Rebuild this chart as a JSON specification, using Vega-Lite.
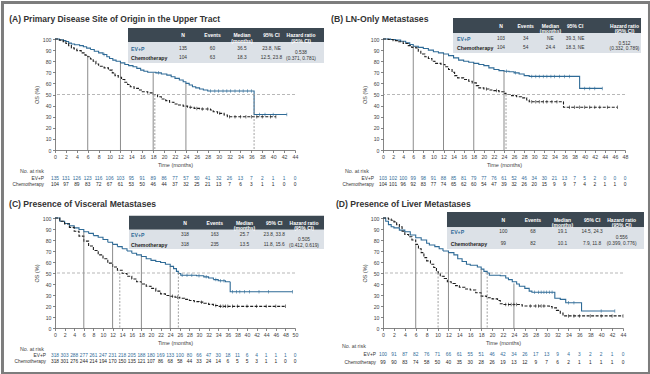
{
"$schema":"https://vega.github.io/schema/vega-lite/v6.json",
"padding":0,
"background":"white",
"columns":2,
"spacing":{"row":68,"column":88},
"bounds":"flush",
"config":{"view":{"stroke":null},"font":"Liberation Sans",
 "axis":{"labelFontSize":5.2,"labelColor":"#444","titleFontSize":5.5,"titleFontWeight":"normal","titleColor":"#444","domainColor":"#666","tickColor":"#666","tickSize":2.5,"labelPadding":1.5,"grid":false,"domainWidth":0.8,"tickWidth":0.8,"labelOverlap":false,"labelFlush":false,"titlePadding":3},
 "axisX":{"tickCount":24},"axisY":{"tickCount":10}},
"datasets":{
"km":[
{"p":"A","arm":"EV+P","t":0,"s":100},{"p":"A","arm":"EV+P","t":0.8,"s":99.3},{"p":"A","arm":"EV+P","t":1.5,"s":98.5},{"p":"A","arm":"EV+P","t":2,"s":97.8},{"p":"A","arm":"EV+P","t":2.5,"s":96.3},{"p":"A","arm":"EV+P","t":3,"s":95.5},{"p":"A","arm":"EV+P","t":3.6,"s":94.8},{"p":"A","arm":"EV+P","t":4.5,"s":94},{"p":"A","arm":"EV+P","t":5.2,"s":93},{"p":"A","arm":"EV+P","t":5.8,"s":91.8},{"p":"A","arm":"EV+P","t":6.5,"s":90.5},{"p":"A","arm":"EV+P","t":7.2,"s":89},{"p":"A","arm":"EV+P","t":8,"s":87.5},{"p":"A","arm":"EV+P","t":8.8,"s":86},{"p":"A","arm":"EV+P","t":9.5,"s":84},{"p":"A","arm":"EV+P","t":10,"s":82.5},{"p":"A","arm":"EV+P","t":10.6,"s":81},{"p":"A","arm":"EV+P","t":11.2,"s":80},{"p":"A","arm":"EV+P","t":12,"s":78.5},{"p":"A","arm":"EV+P","t":12.8,"s":77},{"p":"A","arm":"EV+P","t":13.5,"s":76},{"p":"A","arm":"EV+P","t":14.3,"s":75},{"p":"A","arm":"EV+P","t":15,"s":73.5},{"p":"A","arm":"EV+P","t":15.7,"s":72},{"p":"A","arm":"EV+P","t":16.3,"s":71},{"p":"A","arm":"EV+P","t":17,"s":70},{"p":"A","arm":"EV+P","t":18.5,"s":69.5},{"p":"A","arm":"EV+P","t":19.5,"s":68.5},{"p":"A","arm":"EV+P","t":20.5,"s":67.5},{"p":"A","arm":"EV+P","t":21.3,"s":66},{"p":"A","arm":"EV+P","t":22,"s":64.5},{"p":"A","arm":"EV+P","t":22.8,"s":63},{"p":"A","arm":"EV+P","t":23.5,"s":61.5},{"p":"A","arm":"EV+P","t":24,"s":60},{"p":"A","arm":"EV+P","t":24.6,"s":58.5},{"p":"A","arm":"EV+P","t":25.2,"s":57},{"p":"A","arm":"EV+P","t":25.8,"s":56},{"p":"A","arm":"EV+P","t":26.5,"s":55},{"p":"A","arm":"EV+P","t":27.2,"s":54},{"p":"A","arm":"EV+P","t":28,"s":53.2},{"p":"A","arm":"EV+P","t":36.5,"s":32},{"p":"A","arm":"EV+P","t":42.5,"s":32},
{"p":"A","arm":"Chemotherapy","t":0,"s":100},{"p":"A","arm":"Chemotherapy","t":0.8,"s":99},{"p":"A","arm":"Chemotherapy","t":1.5,"s":97.5},{"p":"A","arm":"Chemotherapy","t":2,"s":96},{"p":"A","arm":"Chemotherapy","t":2.5,"s":94},{"p":"A","arm":"Chemotherapy","t":3,"s":92},{"p":"A","arm":"Chemotherapy","t":3.5,"s":91},{"p":"A","arm":"Chemotherapy","t":4,"s":89.5},{"p":"A","arm":"Chemotherapy","t":4.8,"s":87.5},{"p":"A","arm":"Chemotherapy","t":5.5,"s":85.5},{"p":"A","arm":"Chemotherapy","t":6,"s":84},{"p":"A","arm":"Chemotherapy","t":6.5,"s":82},{"p":"A","arm":"Chemotherapy","t":7,"s":80},{"p":"A","arm":"Chemotherapy","t":7.5,"s":77.5},{"p":"A","arm":"Chemotherapy","t":8,"s":75.5},{"p":"A","arm":"Chemotherapy","t":9,"s":74},{"p":"A","arm":"Chemotherapy","t":9.8,"s":72},{"p":"A","arm":"Chemotherapy","t":10.5,"s":69.5},{"p":"A","arm":"Chemotherapy","t":11,"s":67},{"p":"A","arm":"Chemotherapy","t":11.6,"s":65.5},{"p":"A","arm":"Chemotherapy","t":12.2,"s":63.5},{"p":"A","arm":"Chemotherapy","t":12.8,"s":61},{"p":"A","arm":"Chemotherapy","t":13.3,"s":59},{"p":"A","arm":"Chemotherapy","t":13.8,"s":57},{"p":"A","arm":"Chemotherapy","t":14.5,"s":55.5},{"p":"A","arm":"Chemotherapy","t":15.3,"s":54},{"p":"A","arm":"Chemotherapy","t":16,"s":52.5},{"p":"A","arm":"Chemotherapy","t":17,"s":51.5},{"p":"A","arm":"Chemotherapy","t":18,"s":50},{"p":"A","arm":"Chemotherapy","t":18.8,"s":48},{"p":"A","arm":"Chemotherapy","t":19.5,"s":46},{"p":"A","arm":"Chemotherapy","t":20.3,"s":44.5},{"p":"A","arm":"Chemotherapy","t":21,"s":43},{"p":"A","arm":"Chemotherapy","t":21.8,"s":41.5},{"p":"A","arm":"Chemotherapy","t":22.5,"s":40.5},{"p":"A","arm":"Chemotherapy","t":23.5,"s":39.5},{"p":"A","arm":"Chemotherapy","t":24.3,"s":38.5},{"p":"A","arm":"Chemotherapy","t":25.5,"s":37.5},{"p":"A","arm":"Chemotherapy","t":26.5,"s":37},{"p":"A","arm":"Chemotherapy","t":28.5,"s":36},{"p":"A","arm":"Chemotherapy","t":29,"s":34.5},{"p":"A","arm":"Chemotherapy","t":29.8,"s":33},{"p":"A","arm":"Chemotherapy","t":31,"s":31.5},{"p":"A","arm":"Chemotherapy","t":31.6,"s":30},{"p":"A","arm":"Chemotherapy","t":40.5,"s":30},
{"p":"B","arm":"EV+P","t":0,"s":100},{"p":"B","arm":"EV+P","t":1.5,"s":99.5},{"p":"B","arm":"EV+P","t":2.5,"s":99},{"p":"B","arm":"EV+P","t":3.5,"s":98},{"p":"B","arm":"EV+P","t":4.5,"s":96.5},{"p":"B","arm":"EV+P","t":5.3,"s":95},{"p":"B","arm":"EV+P","t":6,"s":93.5},{"p":"B","arm":"EV+P","t":7,"s":92.5},{"p":"B","arm":"EV+P","t":8,"s":91.5},{"p":"B","arm":"EV+P","t":9,"s":90},{"p":"B","arm":"EV+P","t":10,"s":88.5},{"p":"B","arm":"EV+P","t":11,"s":87.5},{"p":"B","arm":"EV+P","t":12,"s":86.5},{"p":"B","arm":"EV+P","t":13,"s":85},{"p":"B","arm":"EV+P","t":14,"s":83},{"p":"B","arm":"EV+P","t":15,"s":81},{"p":"B","arm":"EV+P","t":16,"s":80},{"p":"B","arm":"EV+P","t":17,"s":79},{"p":"B","arm":"EV+P","t":18,"s":78},{"p":"B","arm":"EV+P","t":19,"s":77},{"p":"B","arm":"EV+P","t":20,"s":76},{"p":"B","arm":"EV+P","t":21,"s":74},{"p":"B","arm":"EV+P","t":22,"s":72.5},{"p":"B","arm":"EV+P","t":23,"s":71.5},{"p":"B","arm":"EV+P","t":24,"s":71},{"p":"B","arm":"EV+P","t":25,"s":70.5},{"p":"B","arm":"EV+P","t":26,"s":69.5},{"p":"B","arm":"EV+P","t":27,"s":68.5},{"p":"B","arm":"EV+P","t":28,"s":67},{"p":"B","arm":"EV+P","t":29,"s":66.3},{"p":"B","arm":"EV+P","t":39,"s":55.5},{"p":"B","arm":"EV+P","t":43.5,"s":55.5},
{"p":"B","arm":"Chemotherapy","t":0,"s":100},{"p":"B","arm":"Chemotherapy","t":1,"s":99.5},{"p":"B","arm":"Chemotherapy","t":2,"s":98.5},{"p":"B","arm":"Chemotherapy","t":3,"s":97.5},{"p":"B","arm":"Chemotherapy","t":4,"s":96},{"p":"B","arm":"Chemotherapy","t":5,"s":94},{"p":"B","arm":"Chemotherapy","t":5.7,"s":92.5},{"p":"B","arm":"Chemotherapy","t":6.5,"s":92},{"p":"B","arm":"Chemotherapy","t":7,"s":89},{"p":"B","arm":"Chemotherapy","t":7.5,"s":86.5},{"p":"B","arm":"Chemotherapy","t":8.3,"s":84},{"p":"B","arm":"Chemotherapy","t":9,"s":82.5},{"p":"B","arm":"Chemotherapy","t":9.7,"s":80},{"p":"B","arm":"Chemotherapy","t":10.3,"s":78},{"p":"B","arm":"Chemotherapy","t":11.5,"s":77},{"p":"B","arm":"Chemotherapy","t":12.3,"s":75},{"p":"B","arm":"Chemotherapy","t":13,"s":72.5},{"p":"B","arm":"Chemotherapy","t":13.7,"s":70},{"p":"B","arm":"Chemotherapy","t":14.2,"s":67},{"p":"B","arm":"Chemotherapy","t":14.8,"s":65},{"p":"B","arm":"Chemotherapy","t":16,"s":63.5},{"p":"B","arm":"Chemotherapy","t":17,"s":62},{"p":"B","arm":"Chemotherapy","t":17.7,"s":60.5},{"p":"B","arm":"Chemotherapy","t":18.5,"s":58},{"p":"B","arm":"Chemotherapy","t":19,"s":56},{"p":"B","arm":"Chemotherapy","t":20,"s":55},{"p":"B","arm":"Chemotherapy","t":21,"s":54},{"p":"B","arm":"Chemotherapy","t":22,"s":53.5},{"p":"B","arm":"Chemotherapy","t":23,"s":52.5},{"p":"B","arm":"Chemotherapy","t":24,"s":51},{"p":"B","arm":"Chemotherapy","t":24.4,"s":50},{"p":"B","arm":"Chemotherapy","t":25.5,"s":49},{"p":"B","arm":"Chemotherapy","t":26.5,"s":48},{"p":"B","arm":"Chemotherapy","t":27.5,"s":47},{"p":"B","arm":"Chemotherapy","t":28.5,"s":45},{"p":"B","arm":"Chemotherapy","t":29,"s":43.5},{"p":"B","arm":"Chemotherapy","t":35.8,"s":38.5},{"p":"B","arm":"Chemotherapy","t":46.5,"s":38.5},
{"p":"C","arm":"EV+P","t":0,"s":100},{"p":"C","arm":"EV+P","t":1,"s":97},{"p":"C","arm":"EV+P","t":2,"s":95},{"p":"C","arm":"EV+P","t":3,"s":93},{"p":"C","arm":"EV+P","t":4,"s":91},{"p":"C","arm":"EV+P","t":5,"s":89.5},{"p":"C","arm":"EV+P","t":6,"s":87.5},{"p":"C","arm":"EV+P","t":7,"s":86},{"p":"C","arm":"EV+P","t":8,"s":84},{"p":"C","arm":"EV+P","t":9,"s":82.5},{"p":"C","arm":"EV+P","t":10,"s":80.5},{"p":"C","arm":"EV+P","t":11,"s":78},{"p":"C","arm":"EV+P","t":12,"s":76},{"p":"C","arm":"EV+P","t":13,"s":74},{"p":"C","arm":"EV+P","t":14,"s":72},{"p":"C","arm":"EV+P","t":15,"s":70},{"p":"C","arm":"EV+P","t":16,"s":68},{"p":"C","arm":"EV+P","t":17,"s":66.5},{"p":"C","arm":"EV+P","t":18,"s":65},{"p":"C","arm":"EV+P","t":19,"s":63},{"p":"C","arm":"EV+P","t":20,"s":61.5},{"p":"C","arm":"EV+P","t":21,"s":60.5},{"p":"C","arm":"EV+P","t":22,"s":59.5},{"p":"C","arm":"EV+P","t":23,"s":58},{"p":"C","arm":"EV+P","t":24,"s":56},{"p":"C","arm":"EV+P","t":24.7,"s":54},{"p":"C","arm":"EV+P","t":25.3,"s":51.5},{"p":"C","arm":"EV+P","t":25.7,"s":49.5},{"p":"C","arm":"EV+P","t":26.2,"s":48},{"p":"C","arm":"EV+P","t":29.5,"s":47.5},{"p":"C","arm":"EV+P","t":31,"s":46.5},{"p":"C","arm":"EV+P","t":32,"s":45.5},{"p":"C","arm":"EV+P","t":33,"s":44},{"p":"C","arm":"EV+P","t":34,"s":43},{"p":"C","arm":"EV+P","t":35.5,"s":42},{"p":"C","arm":"EV+P","t":36.5,"s":33},{"p":"C","arm":"EV+P","t":49.5,"s":33},
{"p":"C","arm":"Chemotherapy","t":0,"s":100},{"p":"C","arm":"Chemotherapy","t":1,"s":97},{"p":"C","arm":"Chemotherapy","t":2,"s":94.5},{"p":"C","arm":"Chemotherapy","t":3,"s":91.5},{"p":"C","arm":"Chemotherapy","t":4,"s":88},{"p":"C","arm":"Chemotherapy","t":5,"s":83.5},{"p":"C","arm":"Chemotherapy","t":6,"s":79},{"p":"C","arm":"Chemotherapy","t":7,"s":74.5},{"p":"C","arm":"Chemotherapy","t":8,"s":70.5},{"p":"C","arm":"Chemotherapy","t":9,"s":66.5},{"p":"C","arm":"Chemotherapy","t":10,"s":63},{"p":"C","arm":"Chemotherapy","t":11,"s":59},{"p":"C","arm":"Chemotherapy","t":12,"s":55.5},{"p":"C","arm":"Chemotherapy","t":13,"s":52.5},{"p":"C","arm":"Chemotherapy","t":14,"s":49.5},{"p":"C","arm":"Chemotherapy","t":15,"s":47},{"p":"C","arm":"Chemotherapy","t":16,"s":44.5},{"p":"C","arm":"Chemotherapy","t":17,"s":42},{"p":"C","arm":"Chemotherapy","t":18,"s":40},{"p":"C","arm":"Chemotherapy","t":19,"s":38},{"p":"C","arm":"Chemotherapy","t":20,"s":36},{"p":"C","arm":"Chemotherapy","t":21,"s":33.5},{"p":"C","arm":"Chemotherapy","t":22,"s":31},{"p":"C","arm":"Chemotherapy","t":23,"s":29.5},{"p":"C","arm":"Chemotherapy","t":24,"s":28.8},{"p":"C","arm":"Chemotherapy","t":25,"s":28},{"p":"C","arm":"Chemotherapy","t":26,"s":27},{"p":"C","arm":"Chemotherapy","t":27,"s":26},{"p":"C","arm":"Chemotherapy","t":28,"s":25},{"p":"C","arm":"Chemotherapy","t":29,"s":24},{"p":"C","arm":"Chemotherapy","t":30,"s":23.5},{"p":"C","arm":"Chemotherapy","t":31,"s":22.5},{"p":"C","arm":"Chemotherapy","t":32,"s":21.5},{"p":"C","arm":"Chemotherapy","t":33,"s":20.5},{"p":"C","arm":"Chemotherapy","t":34,"s":19.7},{"p":"C","arm":"Chemotherapy","t":48,"s":19.7},
{"p":"D","arm":"EV+P","t":0,"s":100},{"p":"D","arm":"EV+P","t":0.5,"s":97},{"p":"D","arm":"EV+P","t":1,"s":94},{"p":"D","arm":"EV+P","t":1.5,"s":92},{"p":"D","arm":"EV+P","t":2,"s":91},{"p":"D","arm":"EV+P","t":3,"s":89},{"p":"D","arm":"EV+P","t":4,"s":87.5},{"p":"D","arm":"EV+P","t":5,"s":84.5},{"p":"D","arm":"EV+P","t":6,"s":82},{"p":"D","arm":"EV+P","t":7,"s":80},{"p":"D","arm":"EV+P","t":8,"s":77},{"p":"D","arm":"EV+P","t":8.5,"s":75.5},{"p":"D","arm":"EV+P","t":9.5,"s":74},{"p":"D","arm":"EV+P","t":10.3,"s":72},{"p":"D","arm":"EV+P","t":11,"s":70},{"p":"D","arm":"EV+P","t":12,"s":68.5},{"p":"D","arm":"EV+P","t":13,"s":66.5},{"p":"D","arm":"EV+P","t":13.7,"s":63},{"p":"D","arm":"EV+P","t":14.5,"s":60.5},{"p":"D","arm":"EV+P","t":15.3,"s":58},{"p":"D","arm":"EV+P","t":16,"s":57},{"p":"D","arm":"EV+P","t":17.3,"s":55.5},{"p":"D","arm":"EV+P","t":18,"s":53.5},{"p":"D","arm":"EV+P","t":18.5,"s":51.5},{"p":"D","arm":"EV+P","t":19.1,"s":50},{"p":"D","arm":"EV+P","t":19.5,"s":48},{"p":"D","arm":"EV+P","t":21.5,"s":47.5},{"p":"D","arm":"EV+P","t":22.5,"s":45.5},{"p":"D","arm":"EV+P","t":23,"s":44},{"p":"D","arm":"EV+P","t":23.7,"s":42},{"p":"D","arm":"EV+P","t":24.5,"s":40},{"p":"D","arm":"EV+P","t":25,"s":38},{"p":"D","arm":"EV+P","t":26,"s":36},{"p":"D","arm":"EV+P","t":26.8,"s":33.5},{"p":"D","arm":"EV+P","t":27.3,"s":32.5},{"p":"D","arm":"EV+P","t":31.5,"s":27},{"p":"D","arm":"EV+P","t":32.5,"s":26},{"p":"D","arm":"EV+P","t":33.5,"s":23},{"p":"D","arm":"EV+P","t":36.4,"s":15.5},{"p":"D","arm":"EV+P","t":42.5,"s":15.5},
{"p":"D","arm":"Chemotherapy","t":0,"s":100},{"p":"D","arm":"Chemotherapy","t":1,"s":99},{"p":"D","arm":"Chemotherapy","t":1.5,"s":98},{"p":"D","arm":"Chemotherapy","t":2,"s":96.5},{"p":"D","arm":"Chemotherapy","t":2.5,"s":94},{"p":"D","arm":"Chemotherapy","t":3,"s":92},{"p":"D","arm":"Chemotherapy","t":3.5,"s":88},{"p":"D","arm":"Chemotherapy","t":4,"s":85},{"p":"D","arm":"Chemotherapy","t":4.7,"s":83},{"p":"D","arm":"Chemotherapy","t":5.3,"s":80},{"p":"D","arm":"Chemotherapy","t":6,"s":76},{"p":"D","arm":"Chemotherapy","t":6.5,"s":72},{"p":"D","arm":"Chemotherapy","t":7,"s":68.5},{"p":"D","arm":"Chemotherapy","t":7.5,"s":64},{"p":"D","arm":"Chemotherapy","t":8,"s":61},{"p":"D","arm":"Chemotherapy","t":8.7,"s":58},{"p":"D","arm":"Chemotherapy","t":9.3,"s":55},{"p":"D","arm":"Chemotherapy","t":9.8,"s":52},{"p":"D","arm":"Chemotherapy","t":10.1,"s":50},{"p":"D","arm":"Chemotherapy","t":10.5,"s":47},{"p":"D","arm":"Chemotherapy","t":11.2,"s":45},{"p":"D","arm":"Chemotherapy","t":11.8,"s":42},{"p":"D","arm":"Chemotherapy","t":12.5,"s":40.5},{"p":"D","arm":"Chemotherapy","t":13.3,"s":38.5},{"p":"D","arm":"Chemotherapy","t":14,"s":37},{"p":"D","arm":"Chemotherapy","t":15,"s":35.5},{"p":"D","arm":"Chemotherapy","t":16,"s":34.5},{"p":"D","arm":"Chemotherapy","t":17,"s":32},{"p":"D","arm":"Chemotherapy","t":18,"s":29},{"p":"D","arm":"Chemotherapy","t":19,"s":27.5},{"p":"D","arm":"Chemotherapy","t":20,"s":26.5},{"p":"D","arm":"Chemotherapy","t":21,"s":25},{"p":"D","arm":"Chemotherapy","t":21.5,"s":22},{"p":"D","arm":"Chemotherapy","t":22,"s":21.3},{"p":"D","arm":"Chemotherapy","t":25.5,"s":20},{"p":"D","arm":"Chemotherapy","t":30.5,"s":19.5},{"p":"D","arm":"Chemotherapy","t":31,"s":18.3},{"p":"D","arm":"Chemotherapy","t":31.8,"s":16},{"p":"D","arm":"Chemotherapy","t":32.5,"s":13.5},{"p":"D","arm":"Chemotherapy","t":33,"s":11},{"p":"D","arm":"Chemotherapy","t":44,"s":11}
],
"cens":[
{"p":"A","arm":"EV+P","t":9,"s":86},{"p":"A","arm":"EV+P","t":19,"s":69.5},{"p":"A","arm":"EV+P","t":28.5,"s":53.2},{"p":"A","arm":"EV+P","t":29.3,"s":53.2},{"p":"A","arm":"EV+P","t":30,"s":53.2},{"p":"A","arm":"EV+P","t":30.8,"s":53.2},{"p":"A","arm":"EV+P","t":31.5,"s":53.2},{"p":"A","arm":"EV+P","t":32.2,"s":53.2},{"p":"A","arm":"EV+P","t":33,"s":53.2},{"p":"A","arm":"EV+P","t":33.8,"s":53.2},{"p":"A","arm":"EV+P","t":34.5,"s":53.2},{"p":"A","arm":"EV+P","t":35.3,"s":53.2},{"p":"A","arm":"EV+P","t":36,"s":53.2},{"p":"A","arm":"EV+P","t":37.5,"s":32},{"p":"A","arm":"EV+P","t":38.5,"s":32},{"p":"A","arm":"EV+P","t":40,"s":32},{"p":"A","arm":"EV+P","t":42.5,"s":32},
{"p":"A","arm":"Chemotherapy","t":24.8,"s":38.5},{"p":"A","arm":"Chemotherapy","t":26,"s":37.5},{"p":"A","arm":"Chemotherapy","t":27,"s":37},{"p":"A","arm":"Chemotherapy","t":28,"s":37},{"p":"A","arm":"Chemotherapy","t":30.2,"s":33},{"p":"A","arm":"Chemotherapy","t":32,"s":30},{"p":"A","arm":"Chemotherapy","t":33,"s":30},{"p":"A","arm":"Chemotherapy","t":34,"s":30},{"p":"A","arm":"Chemotherapy","t":35,"s":30},{"p":"A","arm":"Chemotherapy","t":36,"s":30},{"p":"A","arm":"Chemotherapy","t":37,"s":30},{"p":"A","arm":"Chemotherapy","t":38,"s":30},{"p":"A","arm":"Chemotherapy","t":39.5,"s":30},{"p":"A","arm":"Chemotherapy","t":40.5,"s":30},
{"p":"B","arm":"EV+P","t":24.5,"s":71},{"p":"B","arm":"EV+P","t":26.3,"s":69.5},{"p":"B","arm":"EV+P","t":29.5,"s":66.3},{"p":"B","arm":"EV+P","t":30.3,"s":66.3},{"p":"B","arm":"EV+P","t":31,"s":66.3},{"p":"B","arm":"EV+P","t":31.8,"s":66.3},{"p":"B","arm":"EV+P","t":32.5,"s":66.3},{"p":"B","arm":"EV+P","t":33.3,"s":66.3},{"p":"B","arm":"EV+P","t":34,"s":66.3},{"p":"B","arm":"EV+P","t":35,"s":66.3},{"p":"B","arm":"EV+P","t":36,"s":66.3},{"p":"B","arm":"EV+P","t":37,"s":66.3},{"p":"B","arm":"EV+P","t":40,"s":55.5},{"p":"B","arm":"EV+P","t":41,"s":55.5},{"p":"B","arm":"EV+P","t":42,"s":55.5},{"p":"B","arm":"EV+P","t":43.5,"s":55.5},
{"p":"B","arm":"Chemotherapy","t":20.5,"s":55},{"p":"B","arm":"Chemotherapy","t":22.5,"s":53.5},{"p":"B","arm":"Chemotherapy","t":29.5,"s":43.5},{"p":"B","arm":"Chemotherapy","t":30.3,"s":43.5},{"p":"B","arm":"Chemotherapy","t":31,"s":43.5},{"p":"B","arm":"Chemotherapy","t":31.8,"s":43.5},{"p":"B","arm":"Chemotherapy","t":32.5,"s":43.5},{"p":"B","arm":"Chemotherapy","t":33.5,"s":43.5},{"p":"B","arm":"Chemotherapy","t":34.5,"s":43.5},{"p":"B","arm":"Chemotherapy","t":37,"s":38.5},{"p":"B","arm":"Chemotherapy","t":38,"s":38.5},{"p":"B","arm":"Chemotherapy","t":39,"s":38.5},{"p":"B","arm":"Chemotherapy","t":40,"s":38.5},{"p":"B","arm":"Chemotherapy","t":41,"s":38.5},{"p":"B","arm":"Chemotherapy","t":42,"s":38.5},{"p":"B","arm":"Chemotherapy","t":43,"s":38.5},{"p":"B","arm":"Chemotherapy","t":44.5,"s":38.5},{"p":"B","arm":"Chemotherapy","t":46.5,"s":38.5},
{"p":"C","arm":"EV+P","t":26.5,"s":48},{"p":"C","arm":"EV+P","t":27.5,"s":48},{"p":"C","arm":"EV+P","t":28.5,"s":48},{"p":"C","arm":"EV+P","t":30,"s":47.5},{"p":"C","arm":"EV+P","t":31.5,"s":46.5},{"p":"C","arm":"EV+P","t":33.5,"s":44},{"p":"C","arm":"EV+P","t":34.5,"s":43},{"p":"C","arm":"EV+P","t":35.2,"s":43},{"p":"C","arm":"EV+P","t":37,"s":33},{"p":"C","arm":"EV+P","t":37.8,"s":33},{"p":"C","arm":"EV+P","t":38.5,"s":33},{"p":"C","arm":"EV+P","t":39.5,"s":33},{"p":"C","arm":"EV+P","t":40.5,"s":33},{"p":"C","arm":"EV+P","t":42.5,"s":33},{"p":"C","arm":"EV+P","t":44.5,"s":33},{"p":"C","arm":"EV+P","t":49.5,"s":33},
{"p":"C","arm":"Chemotherapy","t":24.5,"s":28.8},{"p":"C","arm":"Chemotherapy","t":25.5,"s":28},{"p":"C","arm":"Chemotherapy","t":30.5,"s":23.5},{"p":"C","arm":"Chemotherapy","t":33.5,"s":20.5},{"p":"C","arm":"Chemotherapy","t":34.5,"s":19.7},{"p":"C","arm":"Chemotherapy","t":35,"s":19.7},{"p":"C","arm":"Chemotherapy","t":35.5,"s":19.7},{"p":"C","arm":"Chemotherapy","t":36,"s":19.7},{"p":"C","arm":"Chemotherapy","t":37,"s":19.7},{"p":"C","arm":"Chemotherapy","t":38,"s":19.7},{"p":"C","arm":"Chemotherapy","t":40,"s":19.7},{"p":"C","arm":"Chemotherapy","t":42,"s":19.7},{"p":"C","arm":"Chemotherapy","t":44,"s":19.7},{"p":"C","arm":"Chemotherapy","t":46,"s":19.7},{"p":"C","arm":"Chemotherapy","t":48,"s":19.7},
{"p":"D","arm":"EV+P","t":27.8,"s":32.5},{"p":"D","arm":"EV+P","t":28.5,"s":32.5},{"p":"D","arm":"EV+P","t":29,"s":32.5},{"p":"D","arm":"EV+P","t":29.5,"s":32.5},{"p":"D","arm":"EV+P","t":30,"s":32.5},{"p":"D","arm":"EV+P","t":30.5,"s":32.5},{"p":"D","arm":"EV+P","t":31,"s":32.5},{"p":"D","arm":"EV+P","t":34,"s":23},{"p":"D","arm":"EV+P","t":35,"s":23},{"p":"D","arm":"EV+P","t":40,"s":15.5},{"p":"D","arm":"EV+P","t":42.5,"s":15.5},
{"p":"D","arm":"Chemotherapy","t":22.5,"s":21.3},{"p":"D","arm":"Chemotherapy","t":23,"s":21.3},{"p":"D","arm":"Chemotherapy","t":23.5,"s":21.3},{"p":"D","arm":"Chemotherapy","t":24,"s":21.3},{"p":"D","arm":"Chemotherapy","t":24.5,"s":21.3},{"p":"D","arm":"Chemotherapy","t":27,"s":20},{"p":"D","arm":"Chemotherapy","t":28,"s":20},{"p":"D","arm":"Chemotherapy","t":28.5,"s":20},{"p":"D","arm":"Chemotherapy","t":29,"s":20},{"p":"D","arm":"Chemotherapy","t":29.5,"s":20},{"p":"D","arm":"Chemotherapy","t":34,"s":11},{"p":"D","arm":"Chemotherapy","t":35,"s":11},{"p":"D","arm":"Chemotherapy","t":36,"s":11},{"p":"D","arm":"Chemotherapy","t":38,"s":11},{"p":"D","arm":"Chemotherapy","t":40,"s":11},{"p":"D","arm":"Chemotherapy","t":42,"s":11},{"p":"D","arm":"Chemotherapy","t":44,"s":11}
],
"lm":[
{"p":"A","kind":"landmark","t":6,"s":84},{"p":"A","kind":"landmark","t":12,"s":78.5},{"p":"A","kind":"landmark","t":18,"s":69.5},{"p":"A","kind":"landmark","t":24,"s":60},{"p":"A","kind":"median","t":18.3,"s":50},{"p":"A","kind":"median","t":36.5,"s":50},
{"p":"B","kind":"landmark","t":6,"s":93.5},{"p":"B","kind":"landmark","t":12,"s":86.5},{"p":"B","kind":"landmark","t":18,"s":78},{"p":"B","kind":"landmark","t":24,"s":71},{"p":"B","kind":"median","t":24.4,"s":50},
{"p":"C","kind":"landmark","t":6,"s":87.5},{"p":"C","kind":"landmark","t":12,"s":76},{"p":"C","kind":"landmark","t":18,"s":65},{"p":"C","kind":"landmark","t":24,"s":56},{"p":"C","kind":"median","t":13.5,"s":50},{"p":"C","kind":"median","t":25.7,"s":50},
{"p":"D","kind":"landmark","t":6,"s":76},{"p":"D","kind":"landmark","t":12,"s":68.5},{"p":"D","kind":"landmark","t":18,"s":53.5},{"p":"D","kind":"landmark","t":24,"s":40.5},{"p":"D","kind":"median","t":10.1,"s":50},{"p":"D","kind":"median","t":19.1,"s":50}
],
"risk":[
{"p":"A","arm":"EV+P","t":0,"n":135},{"p":"A","arm":"EV+P","t":2,"n":131},{"p":"A","arm":"EV+P","t":4,"n":126},{"p":"A","arm":"EV+P","t":6,"n":123},{"p":"A","arm":"EV+P","t":8,"n":116},{"p":"A","arm":"EV+P","t":10,"n":106},{"p":"A","arm":"EV+P","t":12,"n":103},{"p":"A","arm":"EV+P","t":14,"n":95},{"p":"A","arm":"EV+P","t":16,"n":91},{"p":"A","arm":"EV+P","t":18,"n":89},{"p":"A","arm":"EV+P","t":20,"n":86},{"p":"A","arm":"EV+P","t":22,"n":77},{"p":"A","arm":"EV+P","t":24,"n":57},{"p":"A","arm":"EV+P","t":26,"n":50},{"p":"A","arm":"EV+P","t":28,"n":41},{"p":"A","arm":"EV+P","t":30,"n":32},{"p":"A","arm":"EV+P","t":32,"n":26},{"p":"A","arm":"EV+P","t":34,"n":13},{"p":"A","arm":"EV+P","t":36,"n":7},{"p":"A","arm":"EV+P","t":38,"n":2},{"p":"A","arm":"EV+P","t":40,"n":1},{"p":"A","arm":"EV+P","t":42,"n":1},{"p":"A","arm":"EV+P","t":44,"n":0},
{"p":"A","arm":"Chemotherapy","t":0,"n":104},{"p":"A","arm":"Chemotherapy","t":2,"n":97},{"p":"A","arm":"Chemotherapy","t":4,"n":89},{"p":"A","arm":"Chemotherapy","t":6,"n":83},{"p":"A","arm":"Chemotherapy","t":8,"n":72},{"p":"A","arm":"Chemotherapy","t":10,"n":67},{"p":"A","arm":"Chemotherapy","t":12,"n":61},{"p":"A","arm":"Chemotherapy","t":14,"n":53},{"p":"A","arm":"Chemotherapy","t":16,"n":50},{"p":"A","arm":"Chemotherapy","t":18,"n":46},{"p":"A","arm":"Chemotherapy","t":20,"n":44},{"p":"A","arm":"Chemotherapy","t":22,"n":37},{"p":"A","arm":"Chemotherapy","t":24,"n":32},{"p":"A","arm":"Chemotherapy","t":26,"n":25},{"p":"A","arm":"Chemotherapy","t":28,"n":21},{"p":"A","arm":"Chemotherapy","t":30,"n":13},{"p":"A","arm":"Chemotherapy","t":32,"n":7},{"p":"A","arm":"Chemotherapy","t":34,"n":6},{"p":"A","arm":"Chemotherapy","t":36,"n":3},{"p":"A","arm":"Chemotherapy","t":38,"n":1},{"p":"A","arm":"Chemotherapy","t":40,"n":1},{"p":"A","arm":"Chemotherapy","t":42,"n":0},{"p":"A","arm":"Chemotherapy","t":44,"n":0},
{"p":"B","arm":"EV+P","t":0,"n":103},{"p":"B","arm":"EV+P","t":2,"n":102},{"p":"B","arm":"EV+P","t":4,"n":100},{"p":"B","arm":"EV+P","t":6,"n":99},{"p":"B","arm":"EV+P","t":8,"n":98},{"p":"B","arm":"EV+P","t":10,"n":91},{"p":"B","arm":"EV+P","t":12,"n":88},{"p":"B","arm":"EV+P","t":14,"n":85},{"p":"B","arm":"EV+P","t":16,"n":81},{"p":"B","arm":"EV+P","t":18,"n":79},{"p":"B","arm":"EV+P","t":20,"n":77},{"p":"B","arm":"EV+P","t":22,"n":76},{"p":"B","arm":"EV+P","t":24,"n":61},{"p":"B","arm":"EV+P","t":26,"n":52},{"p":"B","arm":"EV+P","t":28,"n":46},{"p":"B","arm":"EV+P","t":30,"n":34},{"p":"B","arm":"EV+P","t":32,"n":30},{"p":"B","arm":"EV+P","t":34,"n":21},{"p":"B","arm":"EV+P","t":36,"n":13},{"p":"B","arm":"EV+P","t":38,"n":7},{"p":"B","arm":"EV+P","t":40,"n":5},{"p":"B","arm":"EV+P","t":42,"n":2},{"p":"B","arm":"EV+P","t":44,"n":0},{"p":"B","arm":"EV+P","t":46,"n":0},{"p":"B","arm":"EV+P","t":48,"n":0},
{"p":"B","arm":"Chemotherapy","t":0,"n":104},{"p":"B","arm":"Chemotherapy","t":2,"n":101},{"p":"B","arm":"Chemotherapy","t":4,"n":96},{"p":"B","arm":"Chemotherapy","t":6,"n":92},{"p":"B","arm":"Chemotherapy","t":8,"n":83},{"p":"B","arm":"Chemotherapy","t":10,"n":77},{"p":"B","arm":"Chemotherapy","t":12,"n":74},{"p":"B","arm":"Chemotherapy","t":14,"n":65},{"p":"B","arm":"Chemotherapy","t":16,"n":62},{"p":"B","arm":"Chemotherapy","t":18,"n":60},{"p":"B","arm":"Chemotherapy","t":20,"n":54},{"p":"B","arm":"Chemotherapy","t":22,"n":47},{"p":"B","arm":"Chemotherapy","t":24,"n":39},{"p":"B","arm":"Chemotherapy","t":26,"n":32},{"p":"B","arm":"Chemotherapy","t":28,"n":26},{"p":"B","arm":"Chemotherapy","t":30,"n":20},{"p":"B","arm":"Chemotherapy","t":32,"n":15},{"p":"B","arm":"Chemotherapy","t":34,"n":9},{"p":"B","arm":"Chemotherapy","t":36,"n":9},{"p":"B","arm":"Chemotherapy","t":38,"n":7},{"p":"B","arm":"Chemotherapy","t":40,"n":4},{"p":"B","arm":"Chemotherapy","t":42,"n":2},{"p":"B","arm":"Chemotherapy","t":44,"n":1},{"p":"B","arm":"Chemotherapy","t":46,"n":1},{"p":"B","arm":"Chemotherapy","t":48,"n":0},
{"p":"C","arm":"EV+P","t":0,"n":318},{"p":"C","arm":"EV+P","t":2,"n":303},{"p":"C","arm":"EV+P","t":4,"n":288},{"p":"C","arm":"EV+P","t":6,"n":277},{"p":"C","arm":"EV+P","t":8,"n":261},{"p":"C","arm":"EV+P","t":10,"n":247},{"p":"C","arm":"EV+P","t":12,"n":231},{"p":"C","arm":"EV+P","t":14,"n":218},{"p":"C","arm":"EV+P","t":16,"n":205},{"p":"C","arm":"EV+P","t":18,"n":188},{"p":"C","arm":"EV+P","t":20,"n":180},{"p":"C","arm":"EV+P","t":22,"n":169},{"p":"C","arm":"EV+P","t":24,"n":133},{"p":"C","arm":"EV+P","t":26,"n":100},{"p":"C","arm":"EV+P","t":28,"n":80},{"p":"C","arm":"EV+P","t":30,"n":66},{"p":"C","arm":"EV+P","t":32,"n":47},{"p":"C","arm":"EV+P","t":34,"n":30},{"p":"C","arm":"EV+P","t":36,"n":18},{"p":"C","arm":"EV+P","t":38,"n":11},{"p":"C","arm":"EV+P","t":40,"n":6},{"p":"C","arm":"EV+P","t":42,"n":4},{"p":"C","arm":"EV+P","t":44,"n":1},{"p":"C","arm":"EV+P","t":46,"n":1},{"p":"C","arm":"EV+P","t":48,"n":1},{"p":"C","arm":"EV+P","t":50,"n":0},
{"p":"C","arm":"Chemotherapy","t":0,"n":318},{"p":"C","arm":"Chemotherapy","t":2,"n":301},{"p":"C","arm":"Chemotherapy","t":4,"n":276},{"p":"C","arm":"Chemotherapy","t":6,"n":244},{"p":"C","arm":"Chemotherapy","t":8,"n":214},{"p":"C","arm":"Chemotherapy","t":10,"n":194},{"p":"C","arm":"Chemotherapy","t":12,"n":170},{"p":"C","arm":"Chemotherapy","t":14,"n":150},{"p":"C","arm":"Chemotherapy","t":16,"n":135},{"p":"C","arm":"Chemotherapy","t":18,"n":121},{"p":"C","arm":"Chemotherapy","t":20,"n":107},{"p":"C","arm":"Chemotherapy","t":22,"n":86},{"p":"C","arm":"Chemotherapy","t":24,"n":68},{"p":"C","arm":"Chemotherapy","t":26,"n":58},{"p":"C","arm":"Chemotherapy","t":28,"n":44},{"p":"C","arm":"Chemotherapy","t":30,"n":33},{"p":"C","arm":"Chemotherapy","t":32,"n":24},{"p":"C","arm":"Chemotherapy","t":34,"n":14},{"p":"C","arm":"Chemotherapy","t":36,"n":6},{"p":"C","arm":"Chemotherapy","t":38,"n":5},{"p":"C","arm":"Chemotherapy","t":40,"n":5},{"p":"C","arm":"Chemotherapy","t":42,"n":3},{"p":"C","arm":"Chemotherapy","t":44,"n":1},{"p":"C","arm":"Chemotherapy","t":46,"n":1},{"p":"C","arm":"Chemotherapy","t":48,"n":0},{"p":"C","arm":"Chemotherapy","t":50,"n":0},
{"p":"D","arm":"EV+P","t":0,"n":100},{"p":"D","arm":"EV+P","t":2,"n":91},{"p":"D","arm":"EV+P","t":4,"n":87},{"p":"D","arm":"EV+P","t":6,"n":82},{"p":"D","arm":"EV+P","t":8,"n":76},{"p":"D","arm":"EV+P","t":10,"n":71},{"p":"D","arm":"EV+P","t":12,"n":66},{"p":"D","arm":"EV+P","t":14,"n":61},{"p":"D","arm":"EV+P","t":16,"n":55},{"p":"D","arm":"EV+P","t":18,"n":51},{"p":"D","arm":"EV+P","t":20,"n":46},{"p":"D","arm":"EV+P","t":22,"n":42},{"p":"D","arm":"EV+P","t":24,"n":34},{"p":"D","arm":"EV+P","t":26,"n":26},{"p":"D","arm":"EV+P","t":28,"n":17},{"p":"D","arm":"EV+P","t":30,"n":13},{"p":"D","arm":"EV+P","t":32,"n":9},{"p":"D","arm":"EV+P","t":34,"n":4},{"p":"D","arm":"EV+P","t":36,"n":3},{"p":"D","arm":"EV+P","t":38,"n":2},{"p":"D","arm":"EV+P","t":40,"n":2},{"p":"D","arm":"EV+P","t":42,"n":1},{"p":"D","arm":"EV+P","t":44,"n":0},
{"p":"D","arm":"Chemotherapy","t":0,"n":99},{"p":"D","arm":"Chemotherapy","t":2,"n":90},{"p":"D","arm":"Chemotherapy","t":4,"n":83},{"p":"D","arm":"Chemotherapy","t":6,"n":74},{"p":"D","arm":"Chemotherapy","t":8,"n":58},{"p":"D","arm":"Chemotherapy","t":10,"n":50},{"p":"D","arm":"Chemotherapy","t":12,"n":40},{"p":"D","arm":"Chemotherapy","t":14,"n":35},{"p":"D","arm":"Chemotherapy","t":16,"n":30},{"p":"D","arm":"Chemotherapy","t":18,"n":28},{"p":"D","arm":"Chemotherapy","t":20,"n":26},{"p":"D","arm":"Chemotherapy","t":22,"n":19},{"p":"D","arm":"Chemotherapy","t":24,"n":13},{"p":"D","arm":"Chemotherapy","t":26,"n":12},{"p":"D","arm":"Chemotherapy","t":28,"n":9},{"p":"D","arm":"Chemotherapy","t":30,"n":7},{"p":"D","arm":"Chemotherapy","t":32,"n":6},{"p":"D","arm":"Chemotherapy","t":34,"n":2},{"p":"D","arm":"Chemotherapy","t":36,"n":1},{"p":"D","arm":"Chemotherapy","t":38,"n":1},{"p":"D","arm":"Chemotherapy","t":40,"n":1},{"p":"D","arm":"Chemotherapy","t":42,"n":1},{"p":"D","arm":"Chemotherapy","t":44,"n":0}
],
"tbl":[
{"p":"*","row":"hdr","col":"N","text":"N"},{"p":"*","row":"hdr","col":"Events","text":"Events"},{"p":"*","row":"hdr","col":"Median","text":"Median\n(months)"},{"p":"*","row":"hdr","col":"CI","text":"95% CI"},{"p":"*","row":"hdr","col":"HR","text":"Hazard ratio\n(95% CI)"},
{"p":"A","row":"EV+P","col":"lbl","text":"EV+P"},{"p":"A","row":"EV+P","col":"N","text":"135"},{"p":"A","row":"EV+P","col":"Events","text":"60"},{"p":"A","row":"EV+P","col":"Median","text":"36.5"},{"p":"A","row":"EV+P","col":"CI","text":"23.8, NE"},
{"p":"A","row":"Chemotherapy","col":"lbl","text":"Chemotherapy"},{"p":"A","row":"Chemotherapy","col":"N","text":"104"},{"p":"A","row":"Chemotherapy","col":"Events","text":"63"},{"p":"A","row":"Chemotherapy","col":"Median","text":"18.3"},{"p":"A","row":"Chemotherapy","col":"CI","text":"12.5, 23.8"},{"p":"A","row":"mid","col":"HR","text":"0.538\n(0.371, 0.781)"},
{"p":"B","row":"EV+P","col":"lbl","text":"EV+P"},{"p":"B","row":"EV+P","col":"N","text":"103"},{"p":"B","row":"EV+P","col":"Events","text":"34"},{"p":"B","row":"EV+P","col":"Median","text":"NE"},{"p":"B","row":"EV+P","col":"CI","text":"39.3, NE"},
{"p":"B","row":"Chemotherapy","col":"lbl","text":"Chemotherapy"},{"p":"B","row":"Chemotherapy","col":"N","text":"104"},{"p":"B","row":"Chemotherapy","col":"Events","text":"54"},{"p":"B","row":"Chemotherapy","col":"Median","text":"24.4"},{"p":"B","row":"Chemotherapy","col":"CI","text":"18.3, NE"},{"p":"B","row":"mid","col":"HR","text":"0.512\n(0.332, 0.789)"},
{"p":"C","row":"EV+P","col":"lbl","text":"EV+P"},{"p":"C","row":"EV+P","col":"N","text":"318"},{"p":"C","row":"EV+P","col":"Events","text":"163"},{"p":"C","row":"EV+P","col":"Median","text":"25.7"},{"p":"C","row":"EV+P","col":"CI","text":"23.8, 33.8"},
{"p":"C","row":"Chemotherapy","col":"lbl","text":"Chemotherapy"},{"p":"C","row":"Chemotherapy","col":"N","text":"318"},{"p":"C","row":"Chemotherapy","col":"Events","text":"235"},{"p":"C","row":"Chemotherapy","col":"Median","text":"13.5"},{"p":"C","row":"Chemotherapy","col":"CI","text":"11.8, 15.6"},{"p":"C","row":"mid","col":"HR","text":"0.505\n(0.412, 0.619)"},
{"p":"D","row":"EV+P","col":"lbl","text":"EV+P"},{"p":"D","row":"EV+P","col":"N","text":"100"},{"p":"D","row":"EV+P","col":"Events","text":"68"},{"p":"D","row":"EV+P","col":"Median","text":"19.1"},{"p":"D","row":"EV+P","col":"CI","text":"14.5, 24.3"},
{"p":"D","row":"Chemotherapy","col":"lbl","text":"Chemotherapy"},{"p":"D","row":"Chemotherapy","col":"N","text":"99"},{"p":"D","row":"Chemotherapy","col":"Events","text":"82"},{"p":"D","row":"Chemotherapy","col":"Median","text":"10.1"},{"p":"D","row":"Chemotherapy","col":"CI","text":"7.9, 11.8"},{"p":"D","row":"mid","col":"HR","text":"0.556\n(0.399, 0.776)"}
]
},
"concat":[
{
"width":240,"height":111,
"resolve":{"scale":{"x":"independent","y":"independent"}},
"layer":[
{
"layer":[
{"data":{"name":"km"},"transform":[{"filter":"datum.p=='A'"}],"mark":{"type":"line","interpolate":"step-after","strokeWidth":1.1},"encoding":{"x":{"field":"t","type":"quantitative","scale":{"domain":[0,44],"nice":false,"zero":false},"axis":{"title":"Time (months)"}},"y":{"field":"s","type":"quantitative","scale":{"domain":[0,100],"nice":false},"axis":{"title":"OS (%)"}},"color":{"field":"arm","type":"nominal","scale":{"domain":["EV+P","Chemotherapy"],"range":["#2f6b97","#1e1e1e"]},"legend":null},"strokeDash":{"field":"arm","type":"nominal","scale":{"domain":["EV+P","Chemotherapy"],"range":[[1,0],[3,1.5]]},"legend":null}}},
{"data":{"values":[{}]},"mark":{"type":"rect","fill":"white","fillOpacity":0,"stroke":"#7d7d7d","strokeWidth":3,"width":647,"height":371},"encoding":{"x":{"datum":49.68,"type":"quantitative"},"y":{"datum":-34.23,"type":"quantitative"}}},
{"data":{"name":"lm"},"transform":[{"filter":"datum.p=='A' && datum.kind=='landmark'"}],"mark":{"type":"rule","color":"#6e6e6e","strokeWidth":0.8},"encoding":{"x":{"field":"t","type":"quantitative"},"y":{"field":"s","type":"quantitative"},"y2":{"datum":0}}},
{"data":{"name":"lm"},"transform":[{"filter":"datum.p=='A' && datum.kind=='median'"}],"mark":{"type":"rule","color":"#8a8a8a","strokeWidth":0.8,"strokeDash":[2,1.5]},"encoding":{"x":{"field":"t","type":"quantitative"},"y":{"field":"s","type":"quantitative"},"y2":{"datum":0}}},
{"data":{"values":[{}]},"mark":{"type":"rule","color":"#9a9a9a","strokeWidth":0.7,"strokeDash":[3,2]},"encoding":{"y":{"datum":50,"type":"quantitative"}}},
{"data":{"name":"cens"},"transform":[{"filter":"datum.p=='A'"}],"mark":{"type":"tick","orient":"vertical","size":3.5,"thickness":0.8},"encoding":{"x":{"field":"t","type":"quantitative"},"y":{"field":"s","type":"quantitative"},"color":{"field":"arm","type":"nominal","legend":null}}},
{"data":{"values":[{}]},"mark":{"type":"rect","color":"#3c4852","width":196,"height":14},"encoding":{"x":{"datum":31.35,"type":"quantitative"},"y":{"datum":103.6,"type":"quantitative"}}},
{"data":{"values":[{}]},"mark":{"type":"rect","color":"#dce1e7","width":196,"height":21},"encoding":{"x":{"datum":31.35,"type":"quantitative"},"y":{"datum":87.84,"type":"quantitative"}}},
{"data":{"values":[{}]},"mark":{"type":"text","align":"left","baseline":"middle","fontSize":8.5,"fontWeight":"bold","color":"#333"},"encoding":{"x":{"datum":-8.38,"type":"quantitative"},"y":{"datum":117.7,"type":"quantitative"},"text":{"value":"(A) Primary Disease Site of Origin in the Upper Tract"}}},
{"data":{"values":[{}]},"mark":{"type":"text","align":"left","baseline":"middle","fontSize":5.3,"color":"#444"},"encoding":{"x":{"datum":-6.42,"type":"quantitative"},"y":{"datum":-18.9,"type":"quantitative"},"text":{"value":"No. at risk"}}},
{"data":{"name":"risk"},"transform":[{"filter":"datum.p=='A' && datum.t==0 && datum.arm=='EV+P'"}],"mark":{"type":"text","align":"right","baseline":"middle","fontSize":4.8,"color":"#333"},"encoding":{"x":{"datum":-2.02,"type":"quantitative"},"y":{"datum":-26.1,"type":"quantitative"},"text":{"field":"arm","type":"nominal"}}},
{"data":{"name":"risk"},"transform":[{"filter":"datum.p=='A' && datum.t==0 && datum.arm=='Chemotherapy'"}],"mark":{"type":"text","align":"right","baseline":"middle","fontSize":4.8,"color":"#333"},"encoding":{"x":{"datum":-2.02,"type":"quantitative"},"y":{"datum":-31.5,"type":"quantitative"},"text":{"field":"arm","type":"nominal"}}},
{"data":{"name":"risk"},"transform":[{"filter":"datum.p=='A' && datum.arm=='EV+P'"}],"mark":{"type":"text","baseline":"middle","fontSize":4.8},"encoding":{"x":{"field":"t","type":"quantitative"},"y":{"datum":-26.1,"type":"quantitative"},"text":{"field":"n","type":"quantitative"},"color":{"field":"arm","type":"nominal","legend":null}}},
{"data":{"name":"risk"},"transform":[{"filter":"datum.p=='A' && datum.arm=='Chemotherapy'"}],"mark":{"type":"text","baseline":"middle","fontSize":4.8},"encoding":{"x":{"field":"t","type":"quantitative"},"y":{"datum":-31.5,"type":"quantitative"},"text":{"field":"n","type":"quantitative"},"color":{"field":"arm","type":"nominal","legend":null}}}
]
},
{
"data":{"name":"tbl"},
"transform":[{"filter":"datum.p=='A' || datum.p=='*'"}],
"encoding":{
"x":{"field":"col","type":"nominal","scale":{"type":"point","domain":["lbl","N","Events","Median","CI","HR"],"range":[98.5,246],"padding":0},"axis":null},
"y":{"field":"row","type":"nominal","scale":{"type":"point","domain":["hdr","h2","EV+P","mid","Chemotherapy"],"range":[0,19],"padding":0},"axis":null},
"text":{"field":"text","type":"nominal"}
},
"layer":[
{"transform":[{"filter":"datum.row=='hdr'"}],"mark":{"type":"text","fontSize":5,"fontWeight":"bold","color":"white","lineBreak":"\n","lineHeight":5.8,"dy":-4}},
{"transform":[{"filter":"datum.col=='lbl'"}],"mark":{"type":"text","fontSize":5.2,"fontWeight":"bold","align":"left","dx":-22.5},"encoding":{"color":{"condition":{"test":"datum.row=='EV+P'","value":"#2f6b97"},"value":"#222"}}},
{"transform":[{"filter":"datum.row!='hdr' && datum.col!='lbl'"}],"mark":{"type":"text","fontSize":4.8,"color":"#333","lineBreak":"\n","lineHeight":5.5}}
]
}
]
},
{
"width":242,"height":111,
"resolve":{"scale":{"x":"independent","y":"independent"}},
"layer":[
{
"layer":[
{"data":{"name":"km"},"transform":[{"filter":"datum.p=='B'"}],"mark":{"type":"line","interpolate":"step-after","strokeWidth":1.1},"encoding":{"x":{"field":"t","type":"quantitative","scale":{"domain":[0,48],"nice":false,"zero":false},"axis":{"title":"Time (months)"}},"y":{"field":"s","type":"quantitative","scale":{"domain":[0,100],"nice":false},"axis":{"title":"OS (%)"}},"color":{"field":"arm","type":"nominal","scale":{"domain":["EV+P","Chemotherapy"],"range":["#2f6b97","#1e1e1e"]},"legend":null},"strokeDash":{"field":"arm","type":"nominal","scale":{"domain":["EV+P","Chemotherapy"],"range":[[1,0],[3,1.5]]},"legend":null}}},
{"data":{"name":"lm"},"transform":[{"filter":"datum.p=='B' && datum.kind=='landmark'"}],"mark":{"type":"rule","color":"#6e6e6e","strokeWidth":0.8},"encoding":{"x":{"field":"t","type":"quantitative"},"y":{"field":"s","type":"quantitative"},"y2":{"datum":0}}},
{"data":{"name":"lm"},"transform":[{"filter":"datum.p=='B' && datum.kind=='median'"}],"mark":{"type":"rule","color":"#8a8a8a","strokeWidth":0.8,"strokeDash":[2,1.5]},"encoding":{"x":{"field":"t","type":"quantitative"},"y":{"field":"s","type":"quantitative"},"y2":{"datum":0}}},
{"data":{"values":[{}]},"mark":{"type":"rule","color":"#9a9a9a","strokeWidth":0.7,"strokeDash":[3,2]},"encoding":{"y":{"datum":50,"type":"quantitative"}}},
{"data":{"name":"cens"},"transform":[{"filter":"datum.p=='B'"}],"mark":{"type":"tick","orient":"vertical","size":3.5,"thickness":0.8},"encoding":{"x":{"field":"t","type":"quantitative"},"y":{"field":"s","type":"quantitative"},"color":{"field":"arm","type":"nominal","legend":null}}},
{"data":{"values":[{}]},"mark":{"type":"rect","color":"#3c4852","width":188,"height":15},"encoding":{"x":{"datum":32.53,"type":"quantitative"},"y":{"datum":112.16,"type":"quantitative"}}},
{"data":{"values":[{}]},"mark":{"type":"rect","color":"#dce1e7","width":188,"height":20},"encoding":{"x":{"datum":32.53,"type":"quantitative"},"y":{"datum":96.4,"type":"quantitative"}}},
{"data":{"values":[{}]},"mark":{"type":"text","align":"left","baseline":"middle","fontSize":8.7,"fontWeight":"bold","color":"#333"},"encoding":{"x":{"datum":-10.31,"type":"quantitative"},"y":{"datum":117.7,"type":"quantitative"},"text":{"value":"(B) LN-Only Metastases"}}},
{"data":{"values":[{}]},"mark":{"type":"text","align":"left","baseline":"middle","fontSize":5.3,"color":"#444"},"encoding":{"x":{"datum":-7.54,"type":"quantitative"},"y":{"datum":-18.9,"type":"quantitative"},"text":{"value":"No. at risk"}}},
{"data":{"name":"risk"},"transform":[{"filter":"datum.p=='B' && datum.t==0 && datum.arm=='EV+P'"}],"mark":{"type":"text","align":"right","baseline":"middle","fontSize":4.8,"color":"#333"},"encoding":{"x":{"datum":-1.79,"type":"quantitative"},"y":{"datum":-26.1,"type":"quantitative"},"text":{"field":"arm","type":"nominal"}}},
{"data":{"name":"risk"},"transform":[{"filter":"datum.p=='B' && datum.t==0 && datum.arm=='Chemotherapy'"}],"mark":{"type":"text","align":"right","baseline":"middle","fontSize":4.8,"color":"#333"},"encoding":{"x":{"datum":-1.79,"type":"quantitative"},"y":{"datum":-31.5,"type":"quantitative"},"text":{"field":"arm","type":"nominal"}}},
{"data":{"name":"risk"},"transform":[{"filter":"datum.p=='B' && datum.arm=='EV+P'"}],"mark":{"type":"text","baseline":"middle","fontSize":4.8},"encoding":{"x":{"field":"t","type":"quantitative"},"y":{"datum":-26.1,"type":"quantitative"},"text":{"field":"n","type":"quantitative"},"color":{"field":"arm","type":"nominal","legend":null}}},
{"data":{"name":"risk"},"transform":[{"filter":"datum.p=='B' && datum.arm=='Chemotherapy'"}],"mark":{"type":"text","baseline":"middle","fontSize":4.8},"encoding":{"x":{"field":"t","type":"quantitative"},"y":{"datum":-31.5,"type":"quantitative"},"text":{"field":"n","type":"quantitative"},"color":{"field":"arm","type":"nominal","legend":null}}}
]
},
{
"data":{"name":"tbl"},
"transform":[{"filter":"datum.p=='B' || datum.p=='*'"}],
"encoding":{
"x":{"field":"col","type":"nominal","scale":{"type":"point","domain":["lbl","N","Events","Median","CI","sp","HR"],"range":[93.3,241.5],"padding":0},"axis":null},
"y":{"field":"row","type":"nominal","scale":{"type":"point","domain":["hdr","h2","EV+P","mid","Chemotherapy"],"range":[-9,9],"padding":0},"axis":null},
"text":{"field":"text","type":"nominal"}
},
"layer":[
{"transform":[{"filter":"datum.row=='hdr'"}],"mark":{"type":"text","fontSize":5,"fontWeight":"bold","color":"white","lineBreak":"\n","lineHeight":5.8,"dy":-4.3}},
{"transform":[{"filter":"datum.col=='lbl'"}],"mark":{"type":"text","fontSize":5.2,"fontWeight":"bold","align":"left","dx":-19.3},"encoding":{"color":{"condition":{"test":"datum.row=='EV+P'","value":"#2f6b97"},"value":"#222"}}},
{"transform":[{"filter":"datum.row!='hdr' && datum.col!='lbl'"}],"mark":{"type":"text","fontSize":4.8,"color":"#333","lineBreak":"\n","lineHeight":5.5}}
]
}
]
},
{
"width":240,"height":110,
"resolve":{"scale":{"x":"independent","y":"independent"}},
"layer":[
{
"layer":[
{"data":{"name":"km"},"transform":[{"filter":"datum.p=='C'"}],"mark":{"type":"line","interpolate":"step-after","strokeWidth":1.1},"encoding":{"x":{"field":"t","type":"quantitative","scale":{"domain":[0,50],"nice":false,"zero":false},"axis":{"title":"Time (months)"}},"y":{"field":"s","type":"quantitative","scale":{"domain":[0,100],"nice":false},"axis":{"title":"OS (%)"}},"color":{"field":"arm","type":"nominal","scale":{"domain":["EV+P","Chemotherapy"],"range":["#2f6b97","#1e1e1e"]},"legend":null},"strokeDash":{"field":"arm","type":"nominal","scale":{"domain":["EV+P","Chemotherapy"],"range":[[1,0],[3,1.5]]},"legend":null}}},
{"data":{"name":"lm"},"transform":[{"filter":"datum.p=='C' && datum.kind=='landmark'"}],"mark":{"type":"rule","color":"#6e6e6e","strokeWidth":0.8},"encoding":{"x":{"field":"t","type":"quantitative"},"y":{"field":"s","type":"quantitative"},"y2":{"datum":0}}},
{"data":{"name":"lm"},"transform":[{"filter":"datum.p=='C' && datum.kind=='median'"}],"mark":{"type":"rule","color":"#8a8a8a","strokeWidth":0.8,"strokeDash":[2,1.5]},"encoding":{"x":{"field":"t","type":"quantitative"},"y":{"field":"s","type":"quantitative"},"y2":{"datum":0}}},
{"data":{"values":[{}]},"mark":{"type":"rule","color":"#9a9a9a","strokeWidth":0.7,"strokeDash":[3,2]},"encoding":{"y":{"datum":50,"type":"quantitative"}}},
{"data":{"name":"cens"},"transform":[{"filter":"datum.p=='C'"}],"mark":{"type":"tick","orient":"vertical","size":3.5,"thickness":0.8},"encoding":{"x":{"field":"t","type":"quantitative"},"y":{"field":"s","type":"quantitative"},"color":{"field":"arm","type":"nominal","legend":null}}},
{"data":{"values":[{}]},"mark":{"type":"rect","color":"#3c4852","width":195,"height":14},"encoding":{"x":{"datum":35.73,"type":"quantitative"},"y":{"datum":95.73,"type":"quantitative"}}},
{"data":{"values":[{}]},"mark":{"type":"rect","color":"#dce1e7","width":195,"height":19.3},"encoding":{"x":{"datum":35.73,"type":"quantitative"},"y":{"datum":80.6,"type":"quantitative"}}},
{"data":{"values":[{}]},"mark":{"type":"text","align":"left","baseline":"middle","fontSize":8.6,"fontWeight":"bold","color":"#333"},"encoding":{"x":{"datum":-9.58,"type":"quantitative"},"y":{"datum":113.0,"type":"quantitative"},"text":{"value":"(C) Presence of Visceral Metastases"}}},
{"data":{"values":[{}]},"mark":{"type":"text","align":"left","baseline":"middle","fontSize":5.3,"color":"#444"},"encoding":{"x":{"datum":-7.29,"type":"quantitative"},"y":{"datum":-18.8,"type":"quantitative"},"text":{"value":"No. at risk"}}},
{"data":{"name":"risk"},"transform":[{"filter":"datum.p=='C' && datum.t==0 && datum.arm=='EV+P'"}],"mark":{"type":"text","align":"right","baseline":"middle","fontSize":4.8,"color":"#333"},"encoding":{"x":{"datum":-1.875,"type":"quantitative"},"y":{"datum":-25.7,"type":"quantitative"},"text":{"field":"arm","type":"nominal"}}},
{"data":{"name":"risk"},"transform":[{"filter":"datum.p=='C' && datum.t==0 && datum.arm=='Chemotherapy'"}],"mark":{"type":"text","align":"right","baseline":"middle","fontSize":4.8,"color":"#333"},"encoding":{"x":{"datum":-1.875,"type":"quantitative"},"y":{"datum":-30.9,"type":"quantitative"},"text":{"field":"arm","type":"nominal"}}},
{"data":{"name":"risk"},"transform":[{"filter":"datum.p=='C' && datum.arm=='EV+P'"}],"mark":{"type":"text","baseline":"middle","fontSize":4.8},"encoding":{"x":{"field":"t","type":"quantitative"},"y":{"datum":-25.7,"type":"quantitative"},"text":{"field":"n","type":"quantitative"},"color":{"field":"arm","type":"nominal","legend":null}}},
{"data":{"name":"risk"},"transform":[{"filter":"datum.p=='C' && datum.arm=='Chemotherapy'"}],"mark":{"type":"text","baseline":"middle","fontSize":4.8},"encoding":{"x":{"field":"t","type":"quantitative"},"y":{"datum":-30.9,"type":"quantitative"},"text":{"field":"n","type":"quantitative"},"color":{"field":"arm","type":"nominal","legend":null}}}
]
},
{
"data":{"name":"tbl"},
"transform":[{"filter":"datum.p=='C' || datum.p=='*'"}],
"encoding":{
"x":{"field":"col","type":"nominal","scale":{"type":"point","domain":["lbl","N","Events","Median","CI","HR"],"range":[100.25,249],"padding":0},"axis":null},
"y":{"field":"row","type":"nominal","scale":{"type":"point","domain":["hdr","h2","EV+P","mid","Chemotherapy"],"range":[7.9,26.7],"padding":0},"axis":null},
"text":{"field":"text","type":"nominal"}
},
"layer":[
{"transform":[{"filter":"datum.row=='hdr'"}],"mark":{"type":"text","fontSize":5,"fontWeight":"bold","color":"white","lineBreak":"\n","lineHeight":5.8,"dy":-3.2}},
{"transform":[{"filter":"datum.col=='lbl'"}],"mark":{"type":"text","fontSize":5.2,"fontWeight":"bold","align":"left","dx":-24.25},"encoding":{"color":{"condition":{"test":"datum.row=='EV+P'","value":"#2f6b97"},"value":"#222"}}},
{"transform":[{"filter":"datum.row!='hdr' && datum.col!='lbl'"}],"mark":{"type":"text","fontSize":4.8,"color":"#333","lineBreak":"\n","lineHeight":5.5}}
]
}
]
},
{
"width":240,"height":110,
"resolve":{"scale":{"x":"independent","y":"independent"}},
"layer":[
{
"layer":[
{"data":{"name":"km"},"transform":[{"filter":"datum.p=='D'"}],"mark":{"type":"line","interpolate":"step-after","strokeWidth":1.1},"encoding":{"x":{"field":"t","type":"quantitative","scale":{"domain":[0,44],"nice":false,"zero":false},"axis":{"title":"Time (months)"}},"y":{"field":"s","type":"quantitative","scale":{"domain":[0,100],"nice":false},"axis":{"title":"OS (%)"}},"color":{"field":"arm","type":"nominal","scale":{"domain":["EV+P","Chemotherapy"],"range":["#2f6b97","#1e1e1e"]},"legend":null},"strokeDash":{"field":"arm","type":"nominal","scale":{"domain":["EV+P","Chemotherapy"],"range":[[1,0],[3,1.5]]},"legend":null}}},
{"data":{"name":"lm"},"transform":[{"filter":"datum.p=='D' && datum.kind=='landmark'"}],"mark":{"type":"rule","color":"#6e6e6e","strokeWidth":0.8},"encoding":{"x":{"field":"t","type":"quantitative"},"y":{"field":"s","type":"quantitative"},"y2":{"datum":0}}},
{"data":{"name":"lm"},"transform":[{"filter":"datum.p=='D' && datum.kind=='median'"}],"mark":{"type":"rule","color":"#8a8a8a","strokeWidth":0.8,"strokeDash":[2,1.5]},"encoding":{"x":{"field":"t","type":"quantitative"},"y":{"field":"s","type":"quantitative"},"y2":{"datum":0}}},
{"data":{"values":[{}]},"mark":{"type":"rule","color":"#9a9a9a","strokeWidth":0.7,"strokeDash":[3,2]},"encoding":{"y":{"datum":50,"type":"quantitative"}}},
{"data":{"name":"cens"},"transform":[{"filter":"datum.p=='D'"}],"mark":{"type":"tick","orient":"vertical","size":3.5,"thickness":0.8},"encoding":{"x":{"field":"t","type":"quantitative"},"y":{"field":"s","type":"quantitative"},"color":{"field":"arm","type":"nominal","legend":null}}},
{"data":{"values":[{}]},"mark":{"type":"rect","color":"#3c4852","width":197,"height":15.3},"encoding":{"x":{"datum":29.79,"type":"quantitative"},"y":{"datum":98.5,"type":"quantitative"}}},
{"data":{"values":[{}]},"mark":{"type":"rect","color":"#dce1e7","width":197,"height":21.7},"encoding":{"x":{"datum":29.79,"type":"quantitative"},"y":{"datum":81.68,"type":"quantitative"}}},
{"data":{"values":[{}]},"mark":{"type":"text","align":"left","baseline":"middle","fontSize":8.6,"fontWeight":"bold","color":"#333"},"encoding":{"x":{"datum":-8.62,"type":"quantitative"},"y":{"datum":113.0,"type":"quantitative"},"text":{"value":"(D) Presence of Liver Metastases"}}},
{"data":{"values":[{}]},"mark":{"type":"text","align":"left","baseline":"middle","fontSize":5.3,"color":"#444"},"encoding":{"x":{"datum":-7.52,"type":"quantitative"},"y":{"datum":-16.4,"type":"quantitative"},"text":{"value":"No. at risk"}}},
{"data":{"name":"risk"},"transform":[{"filter":"datum.p=='D' && datum.t==0 && datum.arm=='EV+P'"}],"mark":{"type":"text","align":"right","baseline":"middle","fontSize":4.8,"color":"#333"},"encoding":{"x":{"datum":-1.28,"type":"quantitative"},"y":{"datum":-24.5,"type":"quantitative"},"text":{"field":"arm","type":"nominal"}}},
{"data":{"name":"risk"},"transform":[{"filter":"datum.p=='D' && datum.t==0 && datum.arm=='Chemotherapy'"}],"mark":{"type":"text","align":"right","baseline":"middle","fontSize":4.8,"color":"#333"},"encoding":{"x":{"datum":-1.28,"type":"quantitative"},"y":{"datum":-32.1,"type":"quantitative"},"text":{"field":"arm","type":"nominal"}}},
{"data":{"name":"risk"},"transform":[{"filter":"datum.p=='D' && datum.arm=='EV+P'"}],"mark":{"type":"text","baseline":"middle","fontSize":4.8},"encoding":{"x":{"field":"t","type":"quantitative"},"y":{"datum":-24.5,"type":"quantitative"},"text":{"field":"n","type":"quantitative"},"color":{"field":"arm","type":"nominal","legend":null}}},
{"data":{"name":"risk"},"transform":[{"filter":"datum.p=='D' && datum.arm=='Chemotherapy'"}],"mark":{"type":"text","baseline":"middle","fontSize":4.8},"encoding":{"x":{"field":"t","type":"quantitative"},"y":{"datum":-32.1,"type":"quantitative"},"text":{"field":"n","type":"quantitative"},"color":{"field":"arm","type":"nominal","legend":null}}}
]
},
{
"data":{"name":"tbl"},
"transform":[{"filter":"datum.p=='D' || datum.p=='*'"}],
"encoding":{
"x":{"field":"col","type":"nominal","scale":{"type":"point","domain":["lbl","N","Events","Median","CI","HR"],"range":[90.7,238.7],"padding":0},"axis":null},
"y":{"field":"row","type":"nominal","scale":{"type":"point","domain":["hdr","h2","EV+P","mid","Chemotherapy"],"range":[2.6,26],"padding":0},"axis":null},
"text":{"field":"text","type":"nominal"}
},
"layer":[
{"transform":[{"filter":"datum.row=='hdr'"}],"mark":{"type":"text","fontSize":5,"fontWeight":"bold","color":"white","lineBreak":"\n","lineHeight":5.8,"dy":-0.9}},
{"transform":[{"filter":"datum.col=='lbl'"}],"mark":{"type":"text","fontSize":5.2,"fontWeight":"bold","align":"left","dx":-23},"encoding":{"color":{"condition":{"test":"datum.row=='EV+P'","value":"#2f6b97"},"value":"#222"}}},
{"transform":[{"filter":"datum.row!='hdr' && datum.col!='lbl'"}],"mark":{"type":"text","fontSize":4.8,"color":"#333","lineBreak":"\n","lineHeight":5.5}}
]
}
]
}
]
}
